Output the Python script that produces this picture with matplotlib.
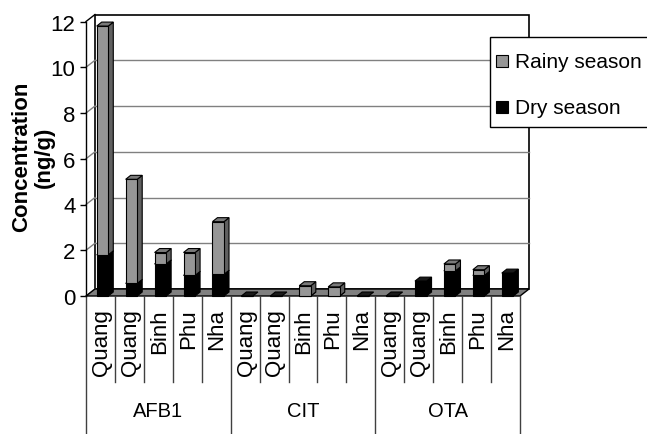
import numpy as np
import matplotlib.pyplot as plt
from matplotlib.patches import Polygon, Rectangle
from matplotlib.transforms import blended_transform_factory

plt.rcParams['font.family'] = ['Liberation Sans', 'DejaVu Sans']

groups = ['AFB1', 'CIT', 'OTA']
sites = ['Quang', 'Quang', 'Binh', 'Phu', 'Nha']
dry = [1.8, 0.55, 1.4, 0.9, 0.95, 0, 0, 0, 0, 0, 0, 0.65, 1.1, 0.9, 1.0]
rainy = [10.0, 4.55, 0.5, 1.0, 2.3, 0, 0, 0.45, 0.4, 0, 0, 0, 0.3, 0.25, 0]
yticks = [0, 2, 4, 6, 8, 10, 12]
series_names = ['Rainy season', 'Dry season']
series_colors = ['#969696', 'black']

W, H = 647, 435
fig = plt.figure(figsize=(W / 100, H / 100), dpi=100)
# front frame of the plot: x 86..520 px, value 0 at y=297, 12 at y=22.5
ax = fig.add_axes([86 / W, (H - 297) / H, 434 / W, 274.5 / H])
n = len(dry)
ax.set_xlim(-0.5, n - 0.5)
ax.set_ylim(0, 12)

def fx(p):
    return p / W

def fy(p):
    # pixel row from top -> figure fraction
    return (H - p) / H

# depth offsets (data units)
dxw, dyw = 9 / 28.93, 7 / 22.9      # walls
dxb, dyb = 5 / 28.93, 4 / 22.9      # bars
xl, xr = -0.5, n - 0.5

# back wall and gridlines
ax.add_patch(Rectangle((xl + dxw, dyw), n, 12, facecolor='white', edgecolor='black',
                       lw=1.2, zorder=1, clip_on=False))
for v in yticks[1:-1]:
    ax.plot([xl + dxw, xr + dxw], [v + dyw] * 2, color='#808080', lw=1, zorder=1.5, clip_on=False)
for v in yticks:
    ax.plot([xl, xl + dxw], [v, v + dyw], color='#808080' if v < 12 else 'black', lw=1,
            zorder=1.5, clip_on=False)

# floor
ax.add_patch(Polygon([(xl, 0), (xr, 0), (xr + dxw, dyw), (xl + dxw, dyw)], closed=True,
                     facecolor='#808080', edgecolor='black', lw=1, zorder=2, clip_on=False))

x = np.arange(n)
x0 = x - 0.13
bw = 0.4


def box_faces(left, bottom, height, side_c, top_c, z):
    right = left + bw
    top = bottom + height
    if height > 0:
        ax.add_patch(Polygon([(right, bottom), (right + dxb, bottom + dyb), (right + dxb, top + dyb),
                              (right, top)], closed=True, facecolor=side_c, edgecolor='black',
                             lw=0.8, zorder=z, clip_on=False))
    ax.add_patch(Polygon([(left, top), (right, top), (right + dxb, top + dyb), (left + dxb, top + dyb)],
                         closed=True, facecolor=top_c, edgecolor='black', lw=0.8, zorder=z,
                         clip_on=False))


for i in range(n):
    box_faces(x0[i], 0, dry[i], 'black', '#1a1a1a', 3)
    if rainy[i] > 0:
        box_faces(x0[i], dry[i], rainy[i], '#606060', '#7a7a7a', 5)

ax.bar(x0, dry, width=bw, align='edge', color='black', edgecolor='black', lw=0.8, zorder=4,
       clip_on=False)
ax.bar(x0, rainy, width=bw, bottom=dry, align='edge', color='#969696', edgecolor='black', lw=0.8,
       zorder=6, clip_on=False)

# axes styling
for s in ['top', 'right', 'bottom']:
    ax.spines[s].set_visible(False)
ax.spines['left'].set_linewidth(1)
ax.spines['left'].set_zorder(7)
ax.set_yticks(yticks)
ax.set_xticks([])
ax.tick_params(axis='y', direction='out', length=4.5, width=1, labelsize=16, pad=3)

# multi-level category axis
tr = blended_transform_factory(ax.transData, fig.transFigure)
for k in range(n + 1):
    bottom = 435 if k % len(sites) == 0 else 383
    ax.plot([k - 0.5, k - 0.5], [fy(297), fy(bottom)], color='#404040', lw=1, transform=tr,
            clip_on=False)
for i in range(n):
    ax.text(i + 0.03, fy(309), sites[i % len(sites)], rotation=90, ha='center', va='top',
            fontsize=16, transform=tr)
for g, name in enumerate(groups):
    ax.text(g * len(sites) + (len(sites) - 1) / 2, fy(412), name, ha='center', va='center',
            fontsize=14.5, transform=tr)

fig.text(33 / W, fy(157), 'Concentration\n(ng/g)', rotation=90, ha='center', va='center',
         fontsize=16, fontweight='bold', linespacing=1.05)

# legend box (runs off the right edge as in the original)
fig.add_artist(Rectangle((fx(490), fy(128)), fx(200), 90 / H, transform=fig.transFigure,
                         facecolor='white', edgecolor='black', lw=1, zorder=10))
for k, (name, col) in enumerate(zip(series_names, series_colors)):
    yc = 62 + 46 * k
    fig.add_artist(Rectangle((fx(496), fy(yc + 6)), fx(12), 12 / H, transform=fig.transFigure,
                             facecolor=col, edgecolor='black', lw=0.8, zorder=11))
    fig.text(fx(515), fy(yc), name, ha='left', va='center', fontsize=15, zorder=11)

fig.savefig('out.png', dpi=100)
